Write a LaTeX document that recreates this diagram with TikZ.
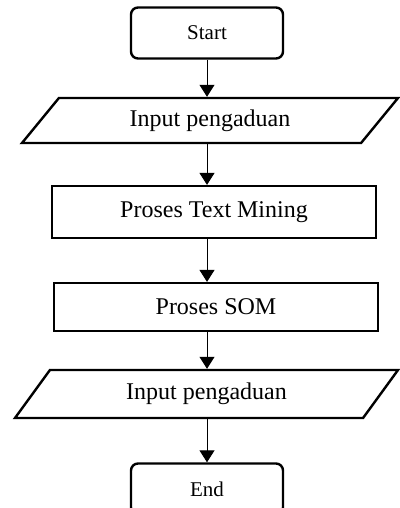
\documentclass[tikz,border=0pt]{standalone}
\usepackage{fontspec}
\setmainfont{Liberation Serif}
\usetikzlibrary{shapes.geometric,arrows.meta}

\begin{document}
\begin{tikzpicture}[x=0.5pt,y=-0.5pt]
    \clip (0,0) rectangle (400,508);
    \tikzset{TermStyle/.style = {draw, line width=1.2pt, rounded corners=3.5pt,
                                 minimum width=76pt, minimum height=25.5pt,
                                 font=\fontsize{10.5}{12}\selectfont}}
    \tikzset{ProcStyle/.style = {draw, line width=1.1pt, minimum width=162pt,
                                 font=\fontsize{12}{14}\selectfont}}
    \tikzset{DataStyle/.style = {draw, line width=1.2pt, trapezium,
                                 trapezium stretches body, inner sep=0pt,
                                 font=\fontsize{12}{14}\selectfont}}
    \tikzset{EdgeStyle/.style = {-{Triangle[length=6pt,width=7.5pt]}, line width=0.5pt}}
    \node[TermStyle] (S) at (207,33) {Start};
    \node[DataStyle, trapezium left angle=30.6, trapezium right angle=149.4,
          minimum height=22.5pt, minimum width=188pt] (In) at (210,120.5) {\raisebox{-1.5pt}{Input pengaduan}};
    \node[ProcStyle, minimum height=26pt] (TM) at (214,212) {Proses Text Mining};
    \node[ProcStyle, minimum height=24pt] (SOM) at (216,307) {Proses SOM};
    \node[DataStyle, trapezium left angle=32, trapezium right angle=148,
          minimum height=24pt, minimum width=191.5pt] (Out) at (206.5,394) {\raisebox{-1pt}{Input pengaduan}};
    \node[TermStyle] (E) at (207,489) {End};
    \draw[EdgeStyle] (S) -- (S |- In.north);
    \draw[EdgeStyle] (S |- In.south) -- (S |- TM.north);
    \draw[EdgeStyle] (S |- TM.south) -- (S |- SOM.north);
    \draw[EdgeStyle] (S |- SOM.south) -- (S |- Out.north);
    \draw[EdgeStyle] (S |- Out.south) -- (E);
\end{tikzpicture}
\end{document}
